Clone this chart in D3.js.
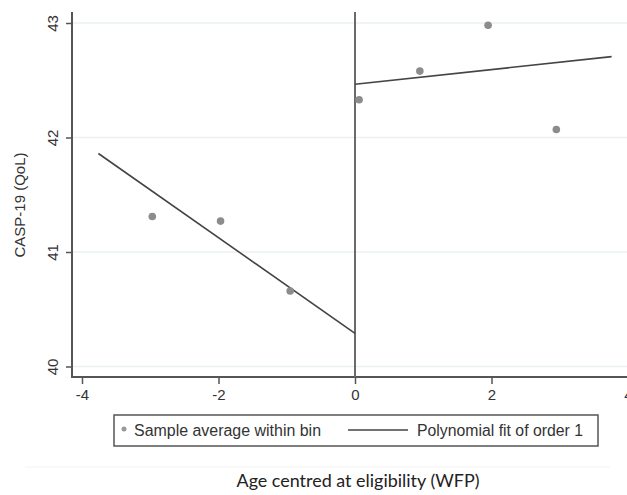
<!DOCTYPE html>
<html>
<head>
<meta charset="utf-8">
<script src="https://cdn.jsdelivr.net/npm/d3@7"></script>
<style>
  body { margin: 0; background: #fff; }
  text { font-family: "Liberation Sans", Arial, sans-serif; fill: #333; }
</style>
</head>
<body>
<div id="chartDiv"></div>
<script>
// binned sample averages (age centred at eligibility vs CASP-19)
var binX = [-2.97, -1.97, -0.95, 0.06, 0.95, 1.95, 2.95];
var binY = [41.31, 41.27, 40.66, 42.33, 42.58, 42.98, 42.07];

// linear fits on each side of the cutoff
var fitLeftX = [-3.76, 0];
var fitLeftY = [41.86, 40.29];
var fitRightX = [0, 3.76];
var fitRightY = [42.465, 42.706];

var xTicks = [-4, -2, 0, 2, 4];
var yTicks = [40, 41, 42, 43];

var W = 627, H = 495;
var axisX = 72, axisY = 377, topY = 12;

var svg = d3.select("#chartDiv").append("svg")
	.attr("width", W)
	.attr("height", H);

var x = d3.scaleLinear().domain([-4, 4]).range([82, 628]);
var y = d3.scaleLinear().domain([40, 43]).range([366.5, 23]);

//faint grid lines
svg.append("g").selectAll("line")
	.data(yTicks)
	.enter().append("line")
	.attr("x1", axisX).attr("x2", W)
	.attr("y1", function(d) { return y(d); })
	.attr("y2", function(d) { return y(d); })
	.attr("stroke", "#eaf0f1")
	.attr("stroke-width", 1.5);

//y axis
var yAxis = svg.append("g")
	.attr("transform", "translate(" + axisX + ",0)")
	.call(d3.axisLeft(y).tickValues(yTicks).tickSize(6).tickFormat(d3.format("d")));
yAxis.select(".domain").remove();
yAxis.selectAll(".tick line").attr("stroke", "#555").attr("stroke-width", 1.5);
yAxis.selectAll(".tick text")
	.attr("font-size", 15)
	.attr("text-anchor", "middle")
	.attr("transform", "rotate(-90)")
	.attr("x", 0)
	.attr("y", -14)
	.attr("dy", 0);

//x axis
var xAxis = svg.append("g")
	.attr("transform", "translate(0," + axisY + ")")
	.call(d3.axisBottom(x).tickValues(xTicks).tickSize(7).tickFormat(d3.format("d")));
xAxis.select(".domain").remove();
xAxis.selectAll(".tick line").attr("stroke", "#555").attr("stroke-width", 1.5);
xAxis.selectAll(".tick text")
	.attr("font-size", 15)
	.attr("y", 12)
	.attr("dy", "0.71em")
	.text(function(d) { return d < 0 ? "-" + Math.abs(d) : d; });

svg.append("line")
	.attr("x1", axisX).attr("x2", axisX)
	.attr("y1", topY).attr("y2", axisY + 1)
	.attr("stroke", "#555").attr("stroke-width", 2);
svg.append("line")
	.attr("x1", axisX - 1).attr("x2", W)
	.attr("y1", axisY).attr("y2", axisY)
	.attr("stroke", "#555").attr("stroke-width", 2);

//cutoff line at zero
svg.append("line")
	.attr("x1", x(0)).attr("x2", x(0))
	.attr("y1", topY).attr("y2", axisY)
	.attr("stroke", "#6a6a6a").attr("stroke-width", 2);

//fit lines
var line = d3.line()
	.x(function(d) { return x(d[0]); })
	.y(function(d) { return y(d[1]); });

[[fitLeftX, fitLeftY], [fitRightX, fitRightY]].forEach(function(f) {
	svg.append("path")
		.datum(d3.zip(f[0], f[1]))
		.attr("d", line)
		.attr("fill", "none")
		.attr("stroke", "#444")
		.attr("stroke-width", 1.6);
});

//bin averages
svg.append("g").selectAll("circle")
	.data(d3.zip(binX, binY))
	.enter().append("circle")
	.attr("cx", function(d) { return x(d[0]); })
	.attr("cy", function(d) { return y(d[1]); })
	.attr("r", 3.8)
	.attr("fill", "#8c8c8c");

//y axis title
svg.append("text")
	.attr("transform", "translate(25,205) rotate(-90)")
	.attr("text-anchor", "middle")
	.attr("font-size", 15)
	.text("CASP-19 (QoL)");

//legend
var leg = svg.append("g");
leg.append("rect")
	.attr("x", 114).attr("y", 415)
	.attr("width", 484).attr("height", 31)
	.attr("fill", "#fff")
	.attr("stroke", "#555")
	.attr("stroke-width", 1.5);
leg.append("circle")
	.attr("cx", 124).attr("cy", 429)
	.attr("r", 2.5)
	.attr("fill", "#999");
leg.append("text")
	.attr("x", 134).attr("y", 436)
	.attr("font-size", 16)
	.attr("textLength", 187)
	.attr("lengthAdjust", "spacingAndGlyphs")
	.text("Sample average within bin");
leg.append("line")
	.attr("x1", 348).attr("x2", 408)
	.attr("y1", 430).attr("y2", 430)
	.attr("stroke", "#444").attr("stroke-width", 1.5);
leg.append("text")
	.attr("x", 417).attr("y", 436)
	.attr("font-size", 16)
	.attr("textLength", 166)
	.attr("lengthAdjust", "spacingAndGlyphs")
	.text("Polynomial fit of order 1");

//faint separator and x title (calibri-like humanist face)
svg.append("line")
	.attr("x1", 25).attr("x2", 610)
	.attr("y1", 467).attr("y2", 467)
	.attr("stroke", "#f2f2f2").attr("stroke-width", 1);
svg.append("text")
	.attr("x", 358).attr("y", 487)
	.attr("text-anchor", "middle")
	.style("font-family", "Lato, 'Open Sans', sans-serif")
	.style("fill", "#222")
	.attr("font-size", 17)
	.attr("textLength", 243)
	.attr("lengthAdjust", "spacingAndGlyphs")
	.text("Age centred at eligibility (WFP)");
</script>
</body>
</html>
